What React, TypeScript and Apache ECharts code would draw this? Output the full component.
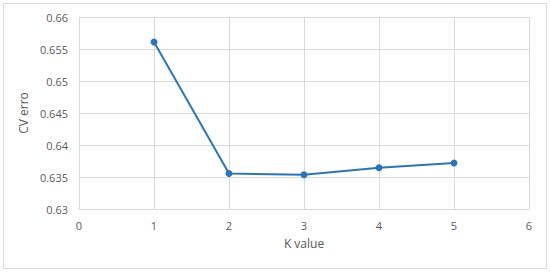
import React, { useEffect, useRef } from "react";
import * as echarts from "echarts";

const kValues = [1, 2, 3, 4, 5];
const cvError = [0.6561, 0.63555, 0.63535, 0.63645, 0.6372];
const xAxisName = "K value";
const yAxisName = "CV erro";

export default function App() {
  const ref = useRef<HTMLDivElement>(null);
  useEffect(() => {
    if (!ref.current) return;
    const chart = echarts.init(ref.current, undefined, { renderer: "svg" });
    const labelColor = "#595959";
    const gridColor = "#d9d9d9";
    chart.setOption({
      animation: false,
      backgroundColor: "#ffffff",
      textStyle: { fontFamily: "Open Sans" },
      graphic: [
        {
          type: "rect",
          shape: { x: 3.5, y: 3.5, width: 543, height: 265 },
          style: { fill: "none", stroke: gridColor, lineWidth: 1 },
          silent: true,
        },
      ],
      grid: { left: 79, right: 21, top: 17, bottom: 64, containLabel: false },
      xAxis: {
        type: "value",
        min: 0,
        max: 6,
        interval: 1,
        name: xAxisName,
        nameLocation: "middle",
        nameGap: 28,
        nameTextStyle: { color: labelColor, fontSize: 12, fontFamily: "Open Sans" },
        axisLine: { show: true, lineStyle: { color: gridColor, width: 1 } },
        axisTick: { show: false },
        axisLabel: { color: labelColor, fontSize: 11, margin: 11, fontFamily: "Open Sans" },
        splitLine: { show: true, lineStyle: { color: gridColor, width: 1 } },
      },
      yAxis: {
        type: "value",
        min: 0.63,
        max: 0.66,
        interval: 0.005,
        name: yAxisName,
        nameLocation: "middle",
        nameGap: 41,
        nameRotate: 90,
        nameTextStyle: { color: labelColor, fontSize: 12, fontFamily: "Open Sans" },
        axisLine: { show: false },
        axisTick: { show: false },
        axisLabel: {
          color: labelColor,
          fontSize: 11,
          margin: 11,
          fontFamily: "Open Sans",
          formatter: (v: number) => String(parseFloat(v.toFixed(3))),
        },
        splitLine: { show: true, lineStyle: { color: gridColor, width: 1 } },
      },
      series: [
        {
          type: "line",
          data: kValues.map((k, i) => [k, cvError[i]]),
          symbol: "circle",
          symbolSize: 7,
          lineStyle: { color: "#2e75b6", width: 2 },
          itemStyle: { color: "#2e75b6" },
        },
      ],
    });
    return () => chart.dispose();
  }, []);
  return <div ref={ref} style={{ width: 550, height: 273, position: "absolute", left: 0, top: 0 }} />;
}
